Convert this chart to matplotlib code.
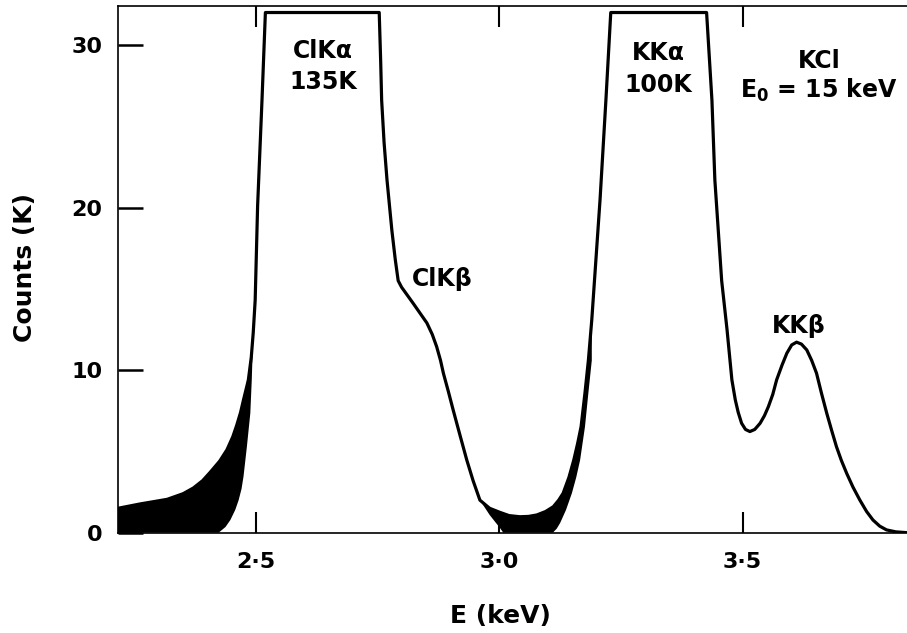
import numpy as np
import matplotlib
matplotlib.use("Agg")
import matplotlib.pyplot as plt

plt.rcParams['font.family'] = ['DejaVu Sans']
plt.rcParams['font.weight'] = 'bold'
plt.rcParams['mathtext.default'] = 'bf'

# KCl spectrum, E0 = 15 keV (counts in thousands, clipped at the top of the display)
energy_kev = [2.216, 2.262, 2.317, 2.350, 2.371, 2.390, 2.406, 2.425, 2.440, 2.452,
              2.460, 2.468, 2.474, 2.480, 2.484, 2.490, 2.494, 2.498, 2.503, 2.512,
              2.519, 2.753, 2.756, 2.758, 2.763, 2.769, 2.779, 2.786, 2.792, 2.799,
              2.811, 2.823, 2.837, 2.851, 2.862, 2.871, 2.879, 2.885, 2.895, 2.905,
              2.919, 2.933, 2.946, 2.960, 2.980, 3.001, 3.020, 3.042, 3.060, 3.077,
              3.095, 3.111, 3.122, 3.131, 3.143, 3.153, 3.161, 3.168, 3.176, 3.183,
              3.190, 3.207, 3.219, 3.229, 3.426, 3.437, 3.443, 3.450, 3.457, 3.468,
              3.478, 3.485, 3.491, 3.498, 3.506, 3.515, 3.525, 3.536, 3.545, 3.553,
              3.562, 3.570, 3.581, 3.591, 3.601, 3.611, 3.621, 3.632, 3.642, 3.652,
              3.662, 3.673, 3.683, 3.693, 3.703, 3.714, 3.727, 3.741, 3.755, 3.768,
              3.782, 3.796, 3.815, 3.838]
counts_k = [1.5, 1.77, 2.05, 2.4, 2.75, 3.2, 3.73, 4.4, 5.1, 5.9,
            6.6, 7.4, 8.17, 8.9, 9.4, 10.8, 12.3, 14.3, 20.1, 26.6,
            32.0, 32.0, 29.0, 26.6, 24.0, 21.7, 18.6, 16.8, 15.5, 15.1,
            14.6, 14.1, 13.5, 12.9, 12.2, 11.45, 10.6, 9.8, 8.7, 7.55,
            6.0, 4.47, 3.2, 2.0, 1.5, 1.25, 1.05, 0.98, 1.0, 1.09,
            1.3, 1.6, 2.0, 2.42, 3.4, 4.47, 5.5, 6.52, 8.6, 10.6,
            13.1, 20.5, 26.6, 32.0, 32.0, 26.6, 21.7, 18.6, 15.5, 12.5,
            9.4, 8.17, 7.4, 6.73, 6.35, 6.22, 6.35, 6.73, 7.2, 7.75,
            8.5, 9.4, 10.3, 11.04, 11.55, 11.72, 11.6, 11.24, 10.6, 9.81,
            8.6, 7.35, 6.3, 5.29, 4.45, 3.65, 2.8, 2.01, 1.3, 0.78,
            0.4, 0.17, 0.05, 0.0]

# lower edge of the statistical spread below ClKa (low-energy tail)
tail_lo_e = [2.216, 2.423, 2.437, 2.447, 2.457, 2.464, 2.470, 2.474, 2.481, 2.488, 2.491, 2.494]
tail_lo_c = [0.0, 0.0, 0.35, 0.78, 1.4, 2.0, 2.7, 3.45, 5.3, 7.35, 9.4, 12.3]

# lower edge of the spread in the valley between ClKb and KKa
valley_lo_e = [2.960, 2.980, 2.993, 3.001, 3.008, 3.110, 3.118, 3.125, 3.137, 3.149, 3.158,
               3.166, 3.176, 3.183, 3.190]
valley_lo_c = [2.0, 1.09, 0.6, 0.3, 0.0, 0.0, 0.25, 0.6, 1.4, 2.42, 3.4,
               4.47, 6.52, 8.6, 10.6]

x_ticks = [2.5, 3.0, 3.5]
x_ticklabels = ['2·5', '3·0', '3·5']
y_ticks = [0, 10, 20, 30]

energy = np.array(energy_kev)
counts = np.array(counts_k)

fig = plt.figure(figsize=(9.07, 6.33), dpi=100)
ax = fig.add_axes([0.1301, 0.1585, 0.8699, 0.832])


def fill_band(e_min, e_max, lo_e, lo_c):
    m = (energy >= e_min) & (energy <= e_max)
    xs = np.concatenate([energy[m], lo_e[::-1]])
    ys = np.concatenate([counts[m], lo_c[::-1]])
    ax.fill(xs, ys, color='black', lw=0)


fill_band(tail_lo_e[0], tail_lo_e[-1], tail_lo_e, tail_lo_c)
fill_band(valley_lo_e[0], valley_lo_e[-1], valley_lo_e, valley_lo_c)

ax.plot(energy, counts, color='black', lw=2.3, solid_joinstyle='round')

ax.set_xlim(2.216, 3.838)
ax.set_ylim(0, 32.4)

ax.spines['right'].set_visible(False)
for s in ['left', 'top', 'bottom']:
    ax.spines[s].set_linewidth(1.2)

ax.set_xticks(x_ticks)
ax.set_xticklabels(x_ticklabels)
ax.set_yticks(y_ticks)
ax.tick_params(axis='x', direction='in', length=15, width=1.5, top=True,
               labelsize=16, pad=14)
ax.tick_params(axis='y', direction='in', length=18, width=1.8,
               labelsize=16, pad=11)

ax.set_xlabel('E (keV)', fontsize=18, fontweight='bold')
ax.set_ylabel('Counts (K)', fontsize=18, fontweight='bold')
ax.xaxis.set_label_coords(0.485, -0.135)
ax.yaxis.set_label_coords(-0.103, 0.503)

# peak labels
txt = dict(ha='center', va='baseline', fontsize=17, fontweight='bold')
ax.text(2.638, 29.21, 'ClKα', **txt)
ax.text(2.638, 27.3, '135K', **txt)
ax.text(3.326, 29.09, 'KKα', **txt)
ax.text(3.326, 27.12, '100K', **txt)
ax.text(2.883, 15.18, 'ClKβ', **txt)
ax.text(3.616, 12.3, 'KKβ', **txt)
ax.text(3.657, 28.6, 'KCl', **txt)
ax.text(3.656, 26.75, 'E$_0$ = 15 keV', **txt)

fig.savefig('out.png', dpi=100)
